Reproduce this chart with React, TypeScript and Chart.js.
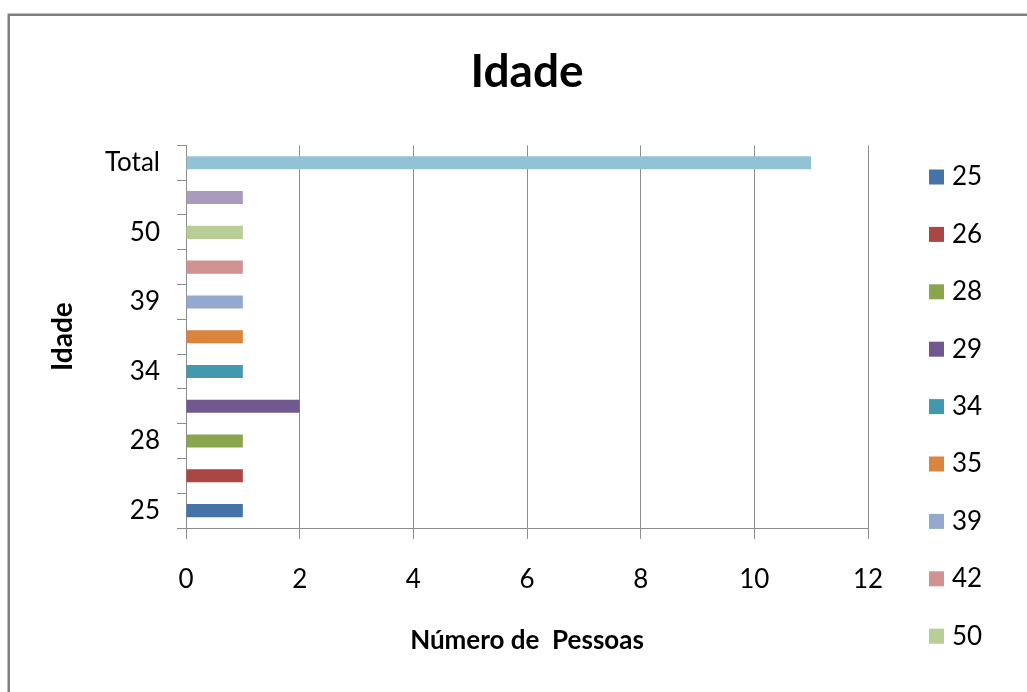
import { useEffect, useRef } from 'react';
import { Chart, registerables } from 'chart.js';

Chart.register(...registerables);

const chartTitle = 'Idade';
const xAxisTitle = 'Número de  Pessoas';
const yAxisTitle = 'Idade';

const categories = ['25', '26', '28', '29', '34', '35', '39', '42', '50', '52', 'Total'];
const seriesNames = ['25', '26', '28', '29', '34', '35', '39', '42', '50', '52', 'Total'];
const seriesValues = [1, 1, 1, 2, 1, 1, 1, 1, 1, 1, 11];
const seriesColors = [
  '#4572A7', '#AA4643', '#89A54E', '#71588F', '#4198AF', '#DB843D',
  '#93A9CF', '#D19392', '#B9CD96', '#A99BBD', '#92C3D4',
];
const xMin = 0;
const xMax = 12;
const xStep = 2;

const FONT = 'Lato, "Open Sans", sans-serif';
const W = 1027;
const H = 692;

const framePlugin = {
  id: 'frame',
  beforeDraw(chart: any) {
    const ctx = chart.ctx;
    ctx.save();
    ctx.fillStyle = '#ffffff';
    ctx.fillRect(0, 0, W, H);
    ctx.strokeStyle = '#808080';
    ctx.lineWidth = 2.5;
    ctx.beginPath();
    ctx.moveTo(8.75, H + 10);
    ctx.lineTo(8.75, 14.75);
    ctx.lineTo(W + 10, 14.75);
    ctx.stroke();
    ctx.restore();
  },
};

const sideLegendPlugin = {
  id: 'sideLegend',
  afterDraw(chart: any) {
    const ctx = chart.ctx;
    ctx.save();
    // legend box area (items beyond it are clipped, as in the reference)
    ctx.beginPath();
    ctx.rect(900, 140, 127, 522);
    ctx.clip();
    ctx.font = `26px ${FONT}`;
    ctx.textBaseline = 'middle';
    ctx.textAlign = 'left';
    chart.data.datasets.forEach((ds: any, i: number) => {
      const y = 177 + i * 57.4;
      ctx.fillStyle = ds.backgroundColor;
      ctx.fillRect(929, y - 7.5, 15, 15);
      ctx.fillStyle = '#000000';
      ctx.fillText(ds.label, 952, y);
    });
    ctx.restore();
  },
};

export default function App() {
  const canvasRef = useRef<HTMLCanvasElement | null>(null);

  useEffect(() => {
    if (!canvasRef.current) return;
    const datasets = seriesNames.map((name, i) => ({
      label: name,
      data: categories.map((_, j) => (j === i ? seriesValues[i] : null)),
      backgroundColor: seriesColors[i],
      borderWidth: 0,
      categoryPercentage: 1,
      barPercentage: 0.375,
    }));

    const chart = new Chart(canvasRef.current, {
      type: 'bar',
      data: { labels: categories, datasets },
      plugins: [framePlugin, sideLegendPlugin],
      options: {
        animation: false,
        responsive: false,
        devicePixelRatio: 1,
        indexAxis: 'y',
        layout: { padding: { left: 0, right: 159, top: 0, bottom: 0 } },
        plugins: {
          legend: { display: false },
          tooltip: { enabled: false },
          title: {
            display: true,
            text: chartTitle,
            fullSize: false,
            color: '#000000',
            font: { family: FONT, size: 46, weight: 'bold', lineHeight: 1.2 },
            padding: { top: 44.4, bottom: 45.8 },
          },
        },
        scales: {
          x: {
            type: 'linear',
            stacked: true,
            min: xMin,
            max: xMax,
            ticks: {
              stepSize: xStep,
              color: '#000000',
              font: { family: FONT, size: 26, lineHeight: 1.2 },
              padding: 25,
            },
            grid: {
              color: '#8c8c8c',
              lineWidth: 1,
              tickLength: 11,
              drawOnChartArea: true,
            },
            border: { display: true, color: '#8c8c8c', width: 1 },
            title: {
              display: true,
              text: xAxisTitle,
              color: '#000000',
              font: { family: FONT, size: 26, weight: 'bold', lineHeight: 1.2 },
              padding: { top: 0, bottom: 35.4 },
            },
            afterFit(scale: any) {
              scale.height = 164;
            },
          },
          y: {
            type: 'category',
            stacked: true,
            reverse: true,
            ticks: {
              autoSkip: false,
              color: '#000000',
              font: { family: FONT, size: 26, lineHeight: 1.2 },
              padding: 17,
              callback: (_v: any, idx: number) => (idx % 2 === 0 ? categories[idx] : ''),
            },
            grid: {
              color: '#8c8c8c',
              lineWidth: 1,
              tickLength: 9,
              drawOnChartArea: false,
              offset: true,
            },
            border: { display: true, color: '#8c8c8c', width: 1 },
            title: {
              display: true,
              text: yAxisTitle,
              color: '#000000',
              font: { family: FONT, size: 28, weight: 'bold', lineHeight: 1.2 },
              padding: { top: 45.7, bottom: 0 },
            },
            afterFit(scale: any) {
              scale.width = 186;
            },
          },
        },
      } as any,
    });

    let alive = true;
    if ((document as any).fonts && (document as any).fonts.load) {
      Promise.all([
        (document as any).fonts.load(`26px Lato`),
        (document as any).fonts.load(`bold 26px Lato`),
      ]).then(() => {
        if (alive) chart.update();
      }).catch(() => {});
    }

    return () => {
      alive = false;
      chart.destroy();
    };
  }, []);

  return (
    <div style={{ position: 'fixed', left: 0, top: 0, width: W, height: H, background: '#fff' }}>
      <canvas ref={canvasRef} width={W} height={H} style={{ width: W, height: H, display: 'block' }} />
    </div>
  );
}
